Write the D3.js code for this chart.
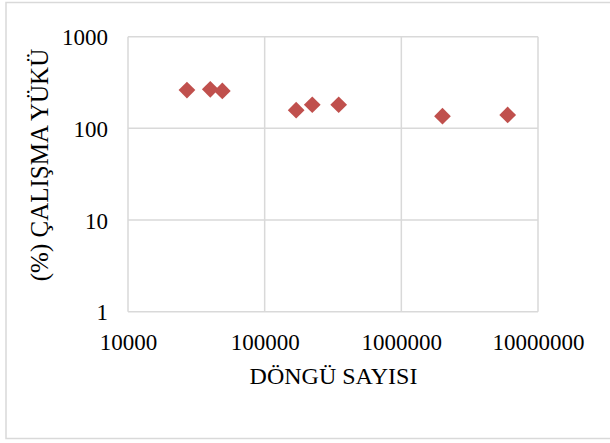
<!DOCTYPE html>
<html>
<head>
<meta charset="utf-8">
<script src="https://cdn.jsdelivr.net/npm/d3@7"></script>
<style>
  html, body { margin: 0; padding: 0; background: #fff; }
  svg { display: block; }
</style>
</head>
<body>
<svg id="chart" width="610" height="443"></svg>
<script>
// Cycle counts (x) and workload percentages (y)
const cycles = [27000, 40000, 49000, 170000, 223000, 348000, 2000000, 6000000];
const workload = [262, 267, 256, 158, 181, 181, 136, 140];
const xTicks = [10000, 100000, 1000000, 10000000];
const yTicks = [1, 10, 100, 1000];
const xTitle = "DÖNGÜ SAYISI";
const yTitle = "(%) ÇALIŞMA YÜKÜ";

const svg = d3.select("#chart");
const font = "'Liberation Serif', 'Times New Roman', serif";
const gridColor = "#d9d9d9";

// outer chart frame
svg.append("rect")
  .attr("x", 6).attr("y", 2.5)
  .attr("width", 610).attr("height", 436)
  .attr("fill", "#fff")
  .attr("stroke", gridColor)
  .attr("stroke-width", 1.5);

const plot = { left: 128, right: 538, top: 36.7, bottom: 311.7 };

const x = d3.scaleLog().domain([10000, 10000000]).range([plot.left, plot.right]);
const y = d3.scaleLog().domain([1, 1000]).range([plot.bottom, plot.top]);

// gridlines
svg.append("g").selectAll("line.h").data(yTicks).join("line")
  .attr("x1", plot.left).attr("x2", plot.right)
  .attr("y1", d => y(d)).attr("y2", d => y(d))
  .attr("stroke", gridColor).attr("stroke-width", 1.5);

svg.append("g").selectAll("line.v").data(xTicks).join("line")
  .attr("y1", plot.top).attr("y2", plot.bottom)
  .attr("x1", d => x(d)).attr("x2", d => x(d))
  .attr("stroke", gridColor).attr("stroke-width", 1.5);

// axes: labels only
const xAxis = d3.axisBottom(x).tickValues(xTicks).tickFormat(d3.format("d")).tickSize(0).tickPadding(0);
const gx = svg.append("g").attr("transform", `translate(0, ${plot.bottom})`).call(xAxis);
gx.select(".domain").remove();
gx.selectAll("text")
  .attr("y", 38).attr("dy", null)
  .attr("font-family", font).attr("font-size", 23).attr("fill", "#000");

const yAxis = d3.axisLeft(y).tickValues(yTicks).tickFormat(d3.format("d")).tickSize(0).tickPadding(0);
const gy = svg.append("g").attr("transform", `translate(108, 0)`).call(yAxis);
gy.select(".domain").remove();
gy.selectAll("text")
  .attr("x", 0).attr("dy", "0.35em")
  .attr("font-family", font).attr("font-size", 23).attr("fill", "#000");

// axis titles
svg.append("text")
  .attr("x", 333.5).attr("y", 384)
  .attr("text-anchor", "middle")
  .attr("font-family", font).attr("font-size", 24).attr("fill", "#000")
  .text(xTitle);

svg.append("text")
  .attr("transform", "translate(48, 165) rotate(-90)")
  .attr("text-anchor", "middle")
  .attr("font-family", font).attr("font-size", 25).attr("fill", "#000")
  .text(yTitle);

// diamond markers
const diamond = d3.symbol().type(d3.symbolSquare).size(140);
svg.append("g").selectAll("path").data(cycles).join("path")
  .attr("d", diamond)
  .attr("transform", (d, i) => `translate(${x(d)}, ${y(workload[i])}) rotate(45)`)
  .attr("fill", "#c0504d");
</script>
</body>
</html>
